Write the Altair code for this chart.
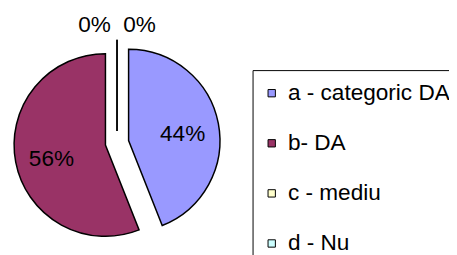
import altair as alt
import pandas as pd

categories = ["a - categoric DA", "b- DA", "c - mediu", "d - Nu"]
values = [44, 56, 0, 0]
colors = ["#9999FF", "#993366", "#FFFFCC", "#CCFFFF"]

df = pd.DataFrame({"cat": categories, "val": values, "ord": list(range(len(categories)))})

CX, CY, R, EXPL = 111, 135, 93, 12
FONT = "Liberation Sans"

base = alt.Chart(df).transform_joinaggregate(
    total="sum(val)"
).transform_calculate(
    isz="datum.val == 0 ? 1 : 0"
).transform_window(
    cum="sum(val)", zr="sum(isz)", sort=[alt.SortField("ord")], frame=[None, 0]
).transform_joinaggregate(
    nz="sum(isz)"
).transform_calculate(
    t1="2*PI*datum.cum/datum.total",
    t0="2*PI*(datum.cum-datum.val)/datum.total",
).transform_calculate(
    mid="(datum.t0+datum.t1)/2",
).transform_calculate(
    ax=f"{CX} + {EXPL}*sin(datum.mid)",
    ay=f"{CY} - {EXPL}*cos(datum.mid)",
    la="datum.mid + (datum.isz ? (datum.zr - (datum.nz+1)/2)*0.42 : 0)",
    lr="datum.isz ? 110 : 56",
    pct="round(100*datum.val/datum.total) + '%'",
).transform_calculate(
    lx="datum.ax + datum.lr*sin(datum.la)",
    ly="datum.ay - datum.lr*cos(datum.la) + (datum.isz ? 0 : 4)",
)

arcs = base.mark_arc(radius=R, stroke="black", strokeWidth=1.5).encode(
    x=alt.X("ax:Q", scale=None),
    y=alt.Y("ay:Q", scale=None),
    theta=alt.Theta("t0:Q", scale=None, stack=None),
    theta2="t1:Q",
    color=alt.Color(
        "cat:N",
        scale=alt.Scale(domain=categories, range=colors),
        sort=categories,
        legend=alt.Legend(
            title=" ",
            titleFontSize=1,
            titlePadding=5,
            orient="none",
            legendX=249,
            legendY=61,
            padding=6,
            rowPadding=27,
            labelFontSize=23,
            labelFont=FONT,
            labelColor="black",
            labelOffset=5,
            symbolOffset=2,
            symbolType="square",
            symbolSize=56,
            symbolStrokeColor="black",
            symbolStrokeWidth=1,
            strokeColor="black",
            fillColor="white",
            labelLimit=400,
        ),
    ),
)

labels = base.mark_text(fontSize=23, font=FONT, color="black", align="center", baseline="middle").encode(
    x=alt.X("lx:Q", scale=None),
    y=alt.Y("ly:Q", scale=None),
    text="pct:N",
)

chart = alt.layer(arcs, labels).properties(
    width=449, height=247, autosize=alt.AutoSizeParams(type="none"), padding=0
).configure_view(stroke=None).configure_legend(strokeWidth=1)

chart.save("out.html", embed_options={"renderer": "svg", "actions": False})
